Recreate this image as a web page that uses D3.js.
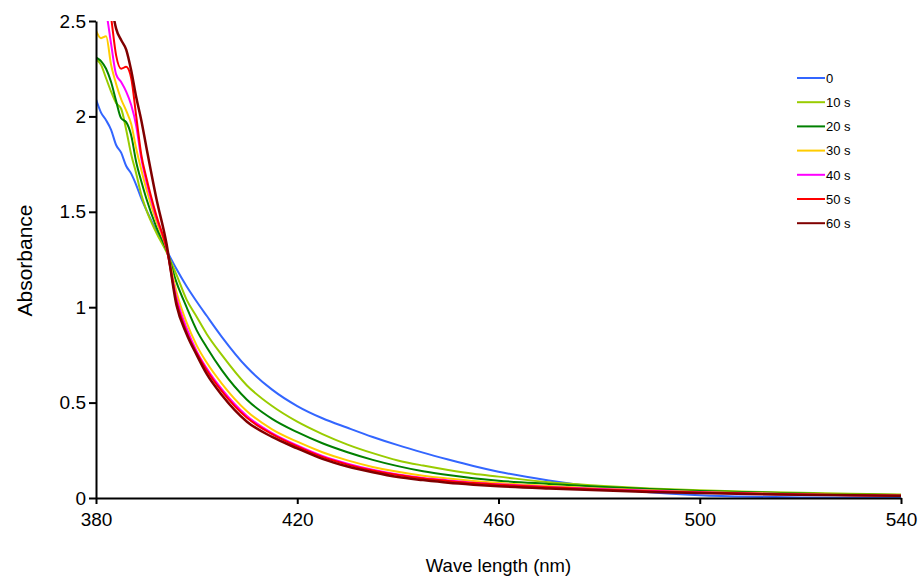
<!DOCTYPE html>
<html>
<head>
<meta charset="utf-8">
<script src="https://cdn.jsdelivr.net/npm/d3@7"></script>
<style>
  body { margin: 0; background: #fff; }
  svg { font-family: "Liberation Sans", Arial, sans-serif; }
</style>
</head>
<body>
<svg width="922" height="577"></svg>
<script>
// wavelengths (nm)
var wavelengths = [380, 381, 382, 383, 384, 385, 386, 387, 388, 389, 390, 392, 394, 396, 398, 400, 402, 405,
    410, 415, 420, 425, 430, 435, 440, 445, 450, 455, 460, 470, 480, 490, 500, 510, 520, 530, 540];

var labels = ["0", "10 s", "20 s", "30 s", "40 s", "50 s", "60 s"];
var colors = ["#3366FF", "#99CC00", "#008000", "#FFCC00", "#FF00FF", "#FF0000", "#800000"];

var abs0 = [2.09, 2.02, 1.98, 1.93, 1.85, 1.81, 1.74, 1.70, 1.64, 1.57, 1.51, 1.40, 1.30, 1.20, 1.11, 1.03, 0.955, 0.845,
    0.685, 0.568, 0.482, 0.418, 0.368, 0.32, 0.277, 0.238, 0.202, 0.168, 0.138, 0.092, 0.056, 0.03, 0.015, 0.007, 0.003, 0.001, 0.0];
var abs10 = [2.30, 2.27, 2.20, 2.13, 2.07, 2.04, 1.93, 1.80, 1.70, 1.59, 1.51, 1.39, 1.29, 1.17, 1.04, 0.95, 0.86, 0.75,
    0.59, 0.482, 0.40, 0.335, 0.28, 0.235, 0.197, 0.17, 0.147, 0.127, 0.112, 0.082, 0.064, 0.05, 0.04, 0.033, 0.027, 0.022, 0.018];
var abs20 = [2.31, 2.29, 2.25, 2.18, 2.08, 1.99, 1.97, 1.90, 1.76, 1.66, 1.57, 1.42, 1.30, 1.13, 1.0, 0.88, 0.79, 0.67,
    0.515, 0.415, 0.345, 0.287, 0.24, 0.20, 0.167, 0.14, 0.12, 0.104, 0.091, 0.074, 0.059, 0.047, 0.037, 0.03, 0.024, 0.019, 0.015];
var abs30 = [2.45, 2.41, 2.42, 2.27, 2.17, 2.09, 2.03, 1.96, 1.83, 1.72, 1.62, 1.45, 1.31, 1.08, 0.92, 0.80, 0.71, 0.60,
    0.455, 0.36, 0.295, 0.24, 0.197, 0.163, 0.137, 0.117, 0.102, 0.089, 0.078, 0.063, 0.05, 0.04, 0.032, 0.026, 0.021, 0.017, 0.014];
var abs40 = [2.56, 2.62, 2.55, 2.38, 2.22, 2.18, 2.13, 2.06, 1.95, 1.78, 1.66, 1.47, 1.31, 1.05, 0.89, 0.77, 0.68, 0.57,
    0.43, 0.34, 0.275, 0.22, 0.18, 0.148, 0.123, 0.105, 0.092, 0.08, 0.072, 0.058, 0.047, 0.038, 0.03, 0.024, 0.019, 0.015, 0.012];
var abs50 = [2.9, 2.85, 2.7, 2.52, 2.32, 2.25, 2.26, 2.2, 2.0, 1.8, 1.68, 1.48, 1.31, 1.03, 0.87, 0.76, 0.67, 0.56,
    0.42, 0.335, 0.27, 0.215, 0.175, 0.144, 0.12, 0.102, 0.089, 0.078, 0.07, 0.056, 0.045, 0.036, 0.029, 0.023, 0.018, 0.015, 0.012];
var abs60 = [3.0, 2.95, 2.8, 2.6, 2.46, 2.40, 2.35, 2.24, 2.10, 1.98, 1.84, 1.57, 1.335, 1.01, 0.86, 0.75, 0.65, 0.54,
    0.40, 0.32, 0.26, 0.205, 0.165, 0.135, 0.11, 0.094, 0.08, 0.07, 0.062, 0.05, 0.04, 0.032, 0.026, 0.021, 0.017, 0.014, 0.012];

var xTicks = [380, 420, 460, 500, 540];
var yTicks = [0, 0.5, 1, 1.5, 2, 2.5];

var allSeries = [abs0, abs10, abs20, abs30, abs40, abs50, abs60];

var svg = d3.select("svg"),
    margin = {top: 21, right: 21, bottom: 79, left: 96},
    width = 922 - margin.left - margin.right,
    height = 577 - margin.top - margin.bottom;

var x = d3.scaleLinear().domain([380, 540]).range([0, width]);
var y = d3.scaleLinear().domain([0, 2.5]).range([height, 0]);

var g = svg.append("g").attr("transform", "translate(" + margin.left + "," + margin.top + ")");

g.append("clipPath").attr("id", "plotClip")
    .append("rect").attr("x", 0).attr("y", 0).attr("width", width).attr("height", height);

var line = d3.line()
    .x(function (d) { return x(d[0]); })
    .y(function (d) { return y(d[1]); })
    .curve(d3.curveMonotoneX);

var lines = g.append("g").attr("clip-path", "url(#plotClip)");
allSeries.forEach(function (vals, i) {
    var pts = wavelengths.map(function (w, j) { return [w, vals[j]]; });
    lines.append("path")
        .datum(pts)
        .attr("fill", "none")
        .attr("stroke", colors[i])
        .attr("stroke-width", i == 6 ? 2.5 : 2)
        .attr("stroke-linejoin", "round")
        .attr("d", line);
});

// axes
var xAxis = d3.axisBottom(x).tickValues(xTicks).tickSize(6).tickSizeOuter(0).tickPadding(9)
    .tickFormat(d3.format("d"));
var yAxis = d3.axisLeft(y).tickValues(yTicks).tickSize(7).tickSizeOuter(0).tickPadding(3)
    .tickFormat(function (d) { return d === 0 ? "0" : String(d); });

var gx = g.append("g").attr("transform", "translate(0," + height + ")").call(xAxis);
var gy = g.append("g").call(yAxis);

[gx, gy].forEach(function (ax) {
    ax.select(".domain").attr("stroke", "#000").attr("stroke-width", 2);
    ax.selectAll(".tick line").attr("stroke", "#000").attr("stroke-width", 2);
    ax.selectAll(".tick text").attr("fill", "#000").style("font-size", "19px")
        .style("font-family", "'Liberation Sans', Arial, sans-serif");
});

// axis titles
svg.append("text")
    .attr("x", margin.left + width / 2)
    .attr("y", 572)
    .attr("text-anchor", "middle")
    .style("font-size", "18.5px")
    .text("Wave length (nm)");

svg.append("text")
    .attr("transform", "translate(32," + (margin.top + height / 2 + 1) + ") rotate(-90)")
    .attr("text-anchor", "middle")
    .style("font-size", "21px")
    .text("Absorbance");

// legend
var legend = svg.append("g").attr("transform", "translate(797,78)");
labels.forEach(function (lab, i) {
    var row = legend.append("g").attr("transform", "translate(0," + (i * 24.2) + ")");
    row.append("line").attr("x1", 0).attr("x2", 28).attr("y1", 0).attr("y2", 0)
        .attr("stroke", colors[i]).attr("stroke-width", 2);
    row.append("text").attr("x", 29).attr("y", 4.7)
        .style("font-size", "13px")
        .text(lab);
});
</script>
</body>
</html>
